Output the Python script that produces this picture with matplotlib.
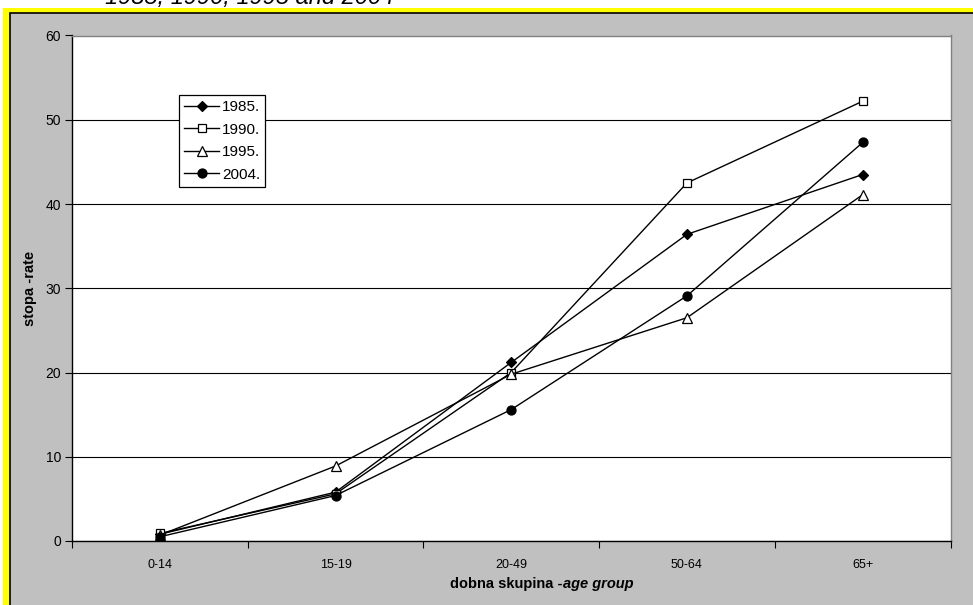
import matplotlib.pyplot as plt
from matplotlib.patches import Rectangle
from matplotlib.ticker import FixedLocator

plt.rcParams['font.family'] = ['Liberation Sans', 'DejaVu Sans']

age_groups = ['0-14', '15-19', '20-49', '50-64', '65+']
years = ['1985.', '1990.', '1995.', '2004.']
rate_1985 = [0.8, 5.8, 21.2, 36.4, 43.5]
rate_1990 = [0.9, 5.6, 20.0, 42.5, 52.2]
rate_1995 = [0.7, 8.9, 19.8, 26.5, 41.1]
rate_2004 = [0.5, 5.4, 15.6, 29.1, 47.3]
y_ticks = [0, 10, 20, 30, 40, 50, 60]

W, H = 973, 605
fig = plt.figure(figsize=(W / 100, H / 100), dpi=100, facecolor='white')

# yellow outer frame and grey chart area
fig.patches.append(Rectangle((3 / W, 0), 1, 1 - 7.5 / H, transform=fig.transFigure,
                             facecolor='#FFFF00', edgecolor='none', zorder=0))
fig.patches.append(Rectangle((9.5 / W, -0.01), 1, 1 - 12.5 / H + 0.01, transform=fig.transFigure,
                             facecolor='#C0C0C0', edgecolor='black', linewidth=1.2, zorder=1))

# title, mostly cut off at the top edge
fig.text(105 / W, 1 - 4 / H, '1985, 1990, 1995 and 2004', fontsize=17, style='italic',
         ha='left', va='baseline', color='black')

ax = fig.add_axes([72 / W, 1 - 541 / H, (950.5 - 72) / W, (541 - 35.5) / H])
ax.set_facecolor('white')
ax.set_zorder(2)

x = range(len(age_groups))
styles = [
    (rate_1985, dict(marker='D', markersize=4.8, markerfacecolor='black')),
    (rate_1990, dict(marker='s', markersize=6, markerfacecolor='white')),
    (rate_1995, dict(marker='^', markersize=6.5, markerfacecolor='white')),
    (rate_2004, dict(marker='o', markersize=6.5, markerfacecolor='black')),
]
for (vals, st), lab in zip(styles, years):
    ax.plot(x, vals, color='black', linewidth=1, markeredgecolor='black',
            markeredgewidth=0.9, label=lab, zorder=3, **st)

ax.set_xlim(-0.5, 4.5)
ax.set_ylim(0, 60)
ax.set_yticks(y_ticks)
ax.set_xticks(list(x))
ax.set_xticklabels(age_groups)
ax.xaxis.set_minor_locator(FixedLocator([-0.5, 0.5, 1.5, 2.5, 3.5, 4.5]))
ax.tick_params(axis='x', which='major', length=0, labelsize=9, pad=13)
ax.tick_params(axis='x', which='minor', length=5, width=0.8, direction='out')
ax.tick_params(axis='y', length=5, width=0.8, direction='out', labelsize=10, pad=3)
ax.grid(axis='y', color='black', linewidth=0.8, zorder=1)
ax.set_axisbelow(True)
for s in ax.spines.values():
    s.set_linewidth(1)
ax.spines['right'].set_color('#808080')
ax.spines['top'].set_color('#808080')

ax.set_ylabel('stopa -rate', fontsize=10.5, fontweight='bold', labelpad=6)

fig.text(563 / W, 1 - 584 / H, 'dobna skupina -', fontsize=10.5, fontweight='bold',
         ha='right', va='center', zorder=3)
fig.text(563 / W, 1 - 584 / H, 'age group', fontsize=10.5, fontweight='bold', style='italic',
         ha='left', va='center', zorder=3)

leg = ax.legend(loc='upper left', bbox_to_anchor=(179 / W, 1 - 95 / H),
                bbox_transform=fig.transFigure, fontsize=11, frameon=True,
                fancybox=False, edgecolor='black', framealpha=1, handlelength=2.3,
                handletextpad=0.15, borderpad=0.35, labelspacing=0.55, borderaxespad=0)
leg.get_frame().set_linewidth(0.9)

fig.savefig('out.png', dpi=100, facecolor=fig.get_facecolor())
